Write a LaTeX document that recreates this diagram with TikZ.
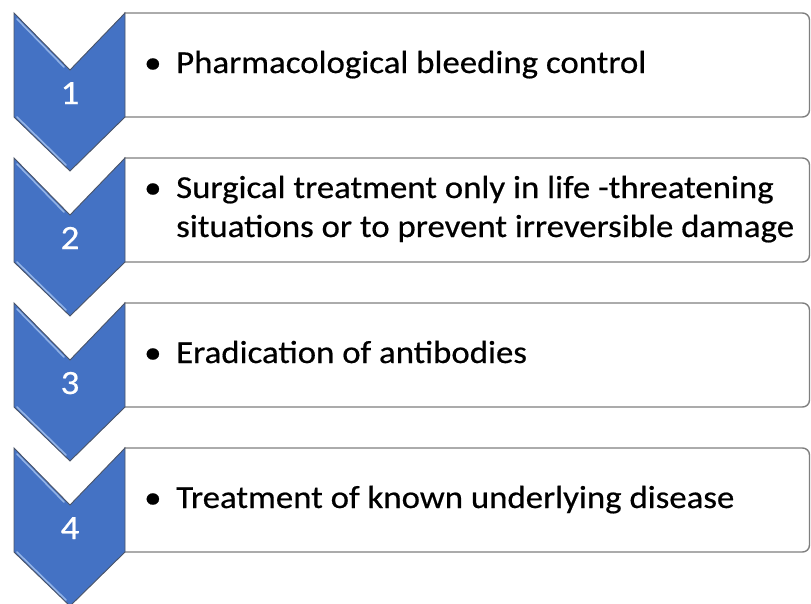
\documentclass[tikz,border=0pt]{standalone}
\usepackage{fontspec}
\setmainfont{Carlito}[FakeStretch=1.088,FakeBold=0.5]
\definecolor{chevblue}{HTML}{4472C4}
\definecolor{chevedge}{HTML}{4A5468}
\definecolor{bevellight}{HTML}{93B3E6}
\definecolor{boxgray}{HTML}{7F7F7F}
\begin{document}
\begin{tikzpicture}[x=1pt,y=-1pt,
  chev/.style={fill=chevblue, draw=chevedge, line width=0.9pt, line join=miter},
  bevel/.style={draw=bevellight, line width=1.6pt, line cap=round},
  txtbox/.style={fill=white, draw=boxgray, line width=1.4pt, rounded corners=7pt},
  num/.style={text=white, font=\fontsize{34}{40}\selectfont, anchor=base, inner sep=0pt},
  item/.style={font=\fontsize{32}{38}\selectfont, anchor=base west, inner sep=0pt}]
\useasboundingbox (0,0) rectangle (811,603);
\foreach \i/\T in {1/13,2/158,3/303,4/448}{
  \draw[txtbox] (124,\T) -- (809.5,\T) -- (809.5,\T+104) -- (124,\T+104);
  \draw[chev] (14,\T) -- (70,\T+57) -- (125,\T) -- (125,\T+104) -- (70,\T+158) -- (14,\T+104) -- cycle;
  \draw[bevel] (17,\T+6) -- (64,\T+54);
  \draw[bevel] (17,\T+104) -- (66,\T+152);
  \node[num] (n\i) at (70,\T+91) {\i};
}
\node[item] (b1) at (144,73) {•};
\node[item] (t1) at (176,73) {Pharmacological bleeding control};
\node[item] (b2) at (144,198) {•};
\node[item] (t2a) at (176,198) {Surgical treatment only in life -threatening};
\node[item] (t2b) at (176,237) {situations or to prevent irreversible damage};
\node[item] (b3) at (144,363) {•};
\node[item] (t3) at (176,363) {Eradication of antibodies};
\node[item] (b4) at (144,508) {•};
\node[item] (t4) at (176,508) {Treatment of known underlying disease};
\end{tikzpicture}
\end{document}
